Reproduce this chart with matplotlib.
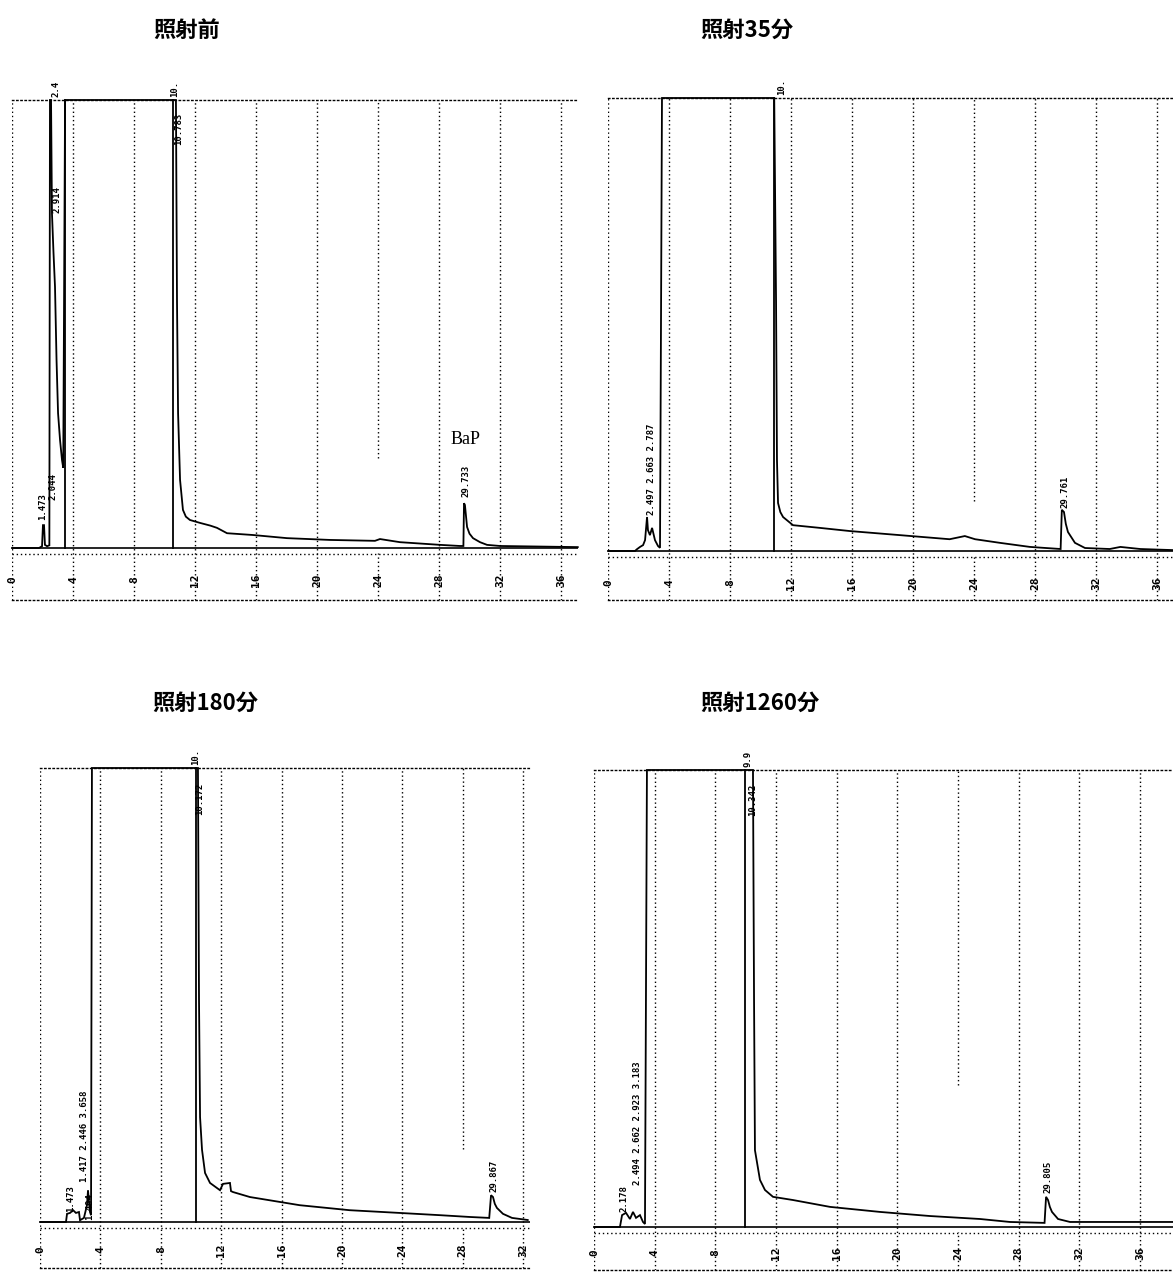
import matplotlib
matplotlib.use('Agg')
import matplotlib.pyplot as plt

plt.rcParams['font.family'] = ['Noto Sans CJK JP', 'DejaVu Sans']

# ---------------- data ----------------
titles = ["照射前", "照射35分", "照射180分", "照射1260分"]

ticks_before = [0, 4, 8, 12, 16, 20, 24, 28, 32, 36]
ticks_35 = [0, 4, 8, 12, 16, 20, 24, 28, 32, 36]
ticks_180 = [0, 4, 8, 12, 16, 20, 24, 28, 32]
ticks_1260 = [0, 4, 8, 12, 16, 20, 24, 28, 32, 36]

# retention time (min) and relative intensity (%, 100 = detector saturation)
t_before = [0, 1.77, 1.97, 2.03, 2.10, 2.16, 2.30, 2.45, 2.49, 2.56, 2.62, 2.72, 2.82, 2.92,
            3.02, 3.15, 3.28, 3.36, 3.48, 10.56, 10.75, 10.82, 10.89, 11.02, 11.21, 11.4,
            11.67, 12.33, 13.0, 13.44, 14.1, 15.8, 18.03, 20.85, 23.8, 24.13, 25.44, 28.07,
            29.38, 29.6, 29.64, 29.70, 29.84, 30.0, 30.23, 30.69, 31.15, 32.0, 37.1]
i_before = [0, 0, 0.4, 5.1, 5.1, 0.7, 0.4, 0.6, 100, 100, 74.8, 66, 58.3, 42,
            30.1, 24.1, 19.6, 17.9, 100, 100, 100, 55, 30.1, 15.2, 8.5, 7.0,
            6.25, 5.6, 5.0, 4.5, 3.3, 2.9, 2.2, 1.8, 1.6, 2.0, 1.3, 0.7,
            0.45, 0.45, 10.0, 9.6, 4.7, 3.2, 2.2, 1.3, 0.7, 0.45, 0.2]

t_35 = [0, 1.77, 1.9, 2.1, 2.3, 2.43, 2.56, 2.62, 2.75, 2.89, 3.08, 3.28, 3.41, 3.54,
        10.9, 11.02, 11.08, 11.15, 11.3, 11.48, 12.13, 13.9, 15.87, 19.15, 22.4, 23.4,
        24.07, 25.7, 27.67, 29.68, 29.76, 29.9, 30.02, 30.16, 30.62, 31.28, 32.9, 33.6,
        34.9, 37.05]
i_35 = [0, 0, 0.4, 0.9, 1.3, 2.4, 7.5, 4.6, 3.5, 5.1, 2.4, 1.1, 0.7, 100,
        100, 55, 20.1, 10.6, 8.6, 7.5, 5.7, 5.1, 4.4, 3.5, 2.6, 3.3,
        2.6, 1.8, 0.9, 0.44, 9.1, 8.6, 6.0, 4.2, 1.8, 0.66, 0.44, 0.9,
        0.44, 0.2]

t_180 = [0, 1.72, 1.79, 1.99, 2.19, 2.38, 2.58, 2.65, 2.91, 3.11, 3.18, 3.25, 3.31,
         3.38, 3.44, 10.33, 10.46, 10.53, 10.6, 10.73, 10.93, 11.26, 11.92, 12.12,
         12.58, 12.65, 12.78, 13.9, 17.2, 20.5, 23.8, 26.5, 28.5, 29.75, 29.87,
         30.0, 30.12, 30.26, 30.66, 31.26, 32.3]
i_180 = [0, 0, 1.8, 2.0, 2.6, 2.0, 2.2, 0.4, 0.9, 3.7, 7.0, 4.2, 2.2,
         1.5, 100, 100, 100, 48.9, 23.1, 15.9, 10.8, 8.6, 7.0, 8.4,
         8.6, 6.8, 6.6, 5.5, 3.7, 2.6, 2.0, 1.5, 1.1, 0.9, 5.9,
         5.5, 4.0, 3.1, 1.8, 0.9, 0.44]

t_1260 = [0, 1.71, 1.85, 2.11, 2.37, 2.57, 2.77, 3.03, 3.23, 3.36, 3.49, 10.3, 10.48,
          10.55, 10.61, 10.94, 11.27, 11.8, 13.12, 15.56, 18.85, 22.15, 25.45, 27.42,
          29.7, 29.8, 29.93, 30.05, 30.19, 30.59, 31.38, 38.2]
i_1260 = [0, 0, 2.6, 3.1, 1.75, 3.3, 2.0, 2.6, 1.1, 0.66, 100, 100, 100,
          49.7, 16.8, 10.3, 8.1, 6.6, 5.9, 4.4, 3.3, 2.4, 1.75, 1.1,
          0.9, 6.6, 5.9, 4.4, 3.3, 1.75, 1.1, 1.1]

markers_before = [3.47, 10.58]
markers_35 = [10.9]
markers_180 = [10.33]
markers_1260 = [9.95]

# peak annotations: (time, intensity of text start, text)
peaks_before = [(2.0, 6.3, "1.473"), (2.66, 10.7, "2.044"), (2.89, 100.7, "2.4"),
                (2.98, 74.8, "2.914"), (10.69, 100.7, "10."), (10.95, 90.0, "10.783"),
                (29.75, 11.4, "29.733")]
peaks_35 = [(2.85, 8.0, "2.497 2.663 2.787"), (11.4, 100.7, "10."),
            (30.0, 9.5, "29.761")]
peaks_180 = [(2.05, 2.2, "1.473"), (2.98, 8.8, "1.417 2.446 3.658"),
             (3.3, 0.5, "1.494"), (10.33, 100.7, "10."), (10.58, 89.6, "10.172"),
             (30.07, 6.6, "29.867")]
peaks_1260 = [(1.98, 3.3, "2.178"), (2.9, 9.2, "2.494 2.662 2.923 3.183"),
              (10.15, 100.7, "9.9"), (10.45, 90.0, "10.342"), (29.95, 7.4, "29.805")]

# ---------------- layout (pixels) ----------------
W, H = 1173, 1273
fig = plt.figure(figsize=(W / 100, H / 100), dpi=100)

panels = [
    dict(title=titles[0], ticks=ticks_before, t=t_before, i=i_before, markers=markers_before,
         peaks=peaks_before, left=12, right=578, top=100, base=548, bottom=600, ppm=15.25,
         label_px=580, broken=(24, 20), title_xy=(187, 30), bap=True),
    dict(title=titles[1], ticks=ticks_35, t=t_35, i=i_35, markers=markers_35,
         peaks=peaks_35, left=608, right=1173, top=98, base=551, bottom=600, ppm=15.25,
         label_px=583, broken=(24, 11), title_xy=(747, 30), bap=False),
    dict(title=titles[2], ticks=ticks_180, t=t_180, i=i_180, markers=markers_180,
         peaks=peaks_180, left=40, right=530, top=768, base=1222, bottom=1268, ppm=15.1,
         label_px=1250, broken=(28, 16), title_xy=(205, 703), bap=False),
    dict(title=titles[3], ticks=ticks_1260, t=t_1260, i=i_1260, markers=markers_1260,
         peaks=peaks_1260, left=594, right=1173, top=770, base=1227, bottom=1270, ppm=15.17,
         label_px=1253, broken=(24, 31), title_xy=(760, 703), bap=False),
]

dot = (0, (1, 2))
for p in panels:
    pxu = (p['base'] - p['top']) / 100.0
    ax = fig.add_axes([p['left'] / W, 1 - p['bottom'] / H,
                       (p['right'] - p['left']) / W, (p['bottom'] - p['top']) / H])
    xmax = (p['right'] - p['left']) / p['ppm']
    ymin = -(p['bottom'] - p['base']) / pxu
    ax.set_xlim(0, xmax)
    ax.set_ylim(ymin, 100)
    ax.set_xticks([])
    ax.set_yticks([])
    for s in ['left', 'right']:
        ax.spines[s].set_visible(False)
    for s in ['top', 'bottom']:
        ax.spines[s].set_linestyle(dot)
        ax.spines[s].set_linewidth(1.0)

    # grid lines
    for tk in p['ticks']:
        if tk == p['broken'][0]:
            ax.plot([tk, tk], [ymin, -1.2], color='black', lw=1.0, ls=dot)
            ax.plot([tk, tk], [p['broken'][1], 100], color='black', lw=1.0, ls=dot)
        else:
            ax.plot([tk, tk], [ymin, 100], color='black', lw=1.0, ls=dot)
        ax.text(tk, -(p['label_px'] - p['base']) / pxu, str(tk), rotation=90,
                ha='center', va='center', fontsize=8, fontweight='bold',
                family='DejaVu Sans Mono')

    # baseline
    ax.plot([0, xmax], [0, 0], color='black', lw=1.2)
    ax.plot([0, xmax], [-1.3, -1.3], color='black', lw=1.0, ls=dot)

    # chromatogram trace
    ax.plot(p['t'], p['i'], color='black', lw=1.3, clip_on=False, solid_joinstyle='miter')
    for m in p['markers']:
        ax.plot([m, m], [0, 100], color='black', lw=1.3, clip_on=False)

    for (pt, pb, txt) in p['peaks']:
        ax.text(pt, pb, txt, rotation=90, ha='center', va='bottom', fontsize=6.5,
                fontweight='bold', family='DejaVu Sans Mono', clip_on=False)

    if p['bap']:
        ax.text(29.75, (p['base'] - 439) / pxu, "BaP", ha='center', va='center',
                fontsize=13, family='Liberation Serif')

    fig.text(p['title_xy'][0] / W, 1 - p['title_xy'][1] / H, p['title'],
             ha='center', va='center', fontsize=16, fontweight='bold')

fig.savefig('out.png', dpi=100)
